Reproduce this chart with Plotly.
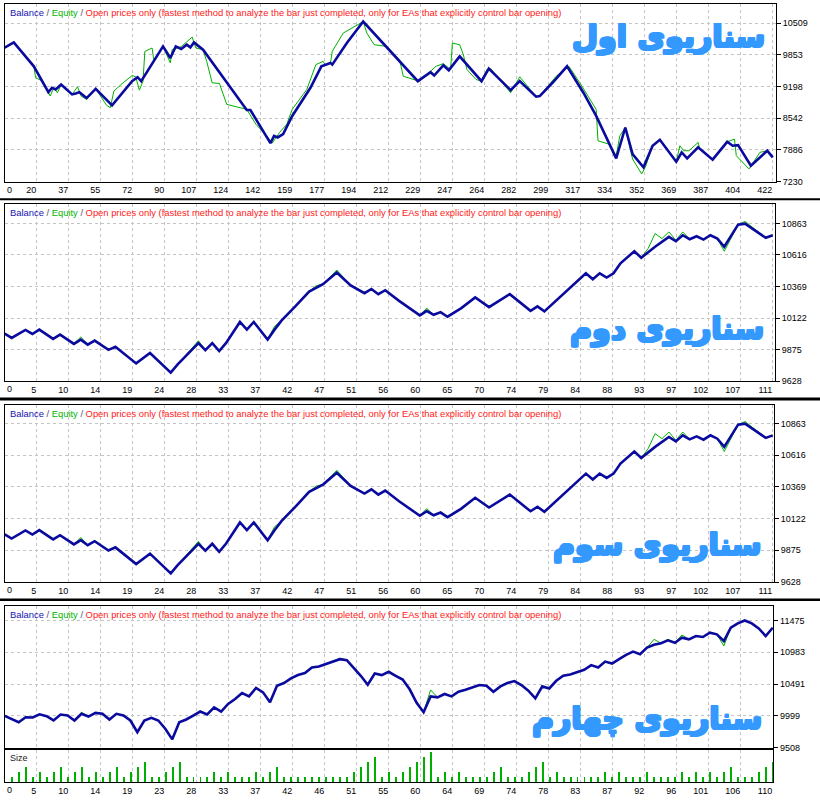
import plotly.graph_objects as go

# ---------------- data ----------------
# Scenario 1 (balance / equity vertices: trade number, account value)
p1_bal_idx = [0, 5, 16, 24, 26, 28, 31, 37, 39, 41, 45, 50, 59, 70, 73, 75, 87, 91, 94, 97, 100, 102, 104, 109,
              133, 135, 146, 148, 150, 153, 158, 168, 174, 179, 180, 188, 197, 227, 234, 236, 241, 244, 250, 262,
              266, 278, 283, 292, 294, 301, 309, 318, 325, 336, 341, 345, 351, 356, 360, 369, 372, 375, 381, 389,
              397, 400, 403, 410, 419, 422]
p1_bal_val = [10000, 10110, 9616, 9081, 9172, 9137, 9240, 9034, 9055, 9081, 8958, 9151, 8808, 9308, 9390, 9308,
              10028, 9789, 10028, 9974, 10062, 10007, 10110, 9960, 8711, 8711, 8026, 8176, 8143, 8211, 8588, 9172,
              9616, 9686, 9651, 10097, 10542, 9308, 9493, 9425, 9637, 9534, 9822, 9308, 9569, 9122, 9308, 8987,
              9000, 9275, 9616, 9069, 8588, 7711, 8349, 7800, 7526, 7971, 8094, 7641, 7835, 7711, 7938, 7683,
              8053, 7971, 7985, 7559, 7868, 7732]
p1_eq_idx = [0, 5, 16, 17, 21, 25, 27, 29, 31, 37, 40, 42, 45, 50, 56, 58, 60, 64, 70, 72, 74, 76, 77, 81, 82, 83,
             87, 91, 92, 97, 103, 105, 109, 111, 114, 118, 122, 133, 138, 144, 147, 151, 155, 158, 164, 166, 171,
             175, 176, 179, 180, 186, 197, 199, 203, 210, 217, 219, 226, 228, 237, 241, 245, 246, 250, 252, 254,
             259, 262, 265, 267, 278, 283, 292, 294, 303, 310, 316, 325, 326, 332, 336, 338, 341, 345, 350, 352,
             356, 360, 369, 371, 373, 376, 381, 382, 389, 397, 401, 402, 409, 415, 419, 422]
p1_eq_val = [10000, 10110, 9630, 9378, 9308, 9000, 9172, 9069, 9240, 9034, 9192, 9000, 8931, 9151, 8808, 8760,
             9102, 9240, 9425, 9398, 9122, 9308, 9925, 9995, 9719, 9789, 10028, 9686, 9960, 10021, 10221, 9995,
             9960, 9719, 9274, 9260, 8828, 8725, 8417, 8176, 8026, 8246, 8417, 8725, 9034, 9137, 9651, 9719,
             9651, 9686, 9925, 10303, 10542, 10303, 10062, 10028, 9748, 9410, 9328, 9308, 9616, 9672, 9549,
             10097, 10062, 9857, 9549, 9343, 9308, 9549, 9569, 9069, 9398, 8987, 9000, 9410, 9616, 9275, 8725,
             8073, 8005, 7765, 8176, 8349, 7697, 7388, 7526, 7971, 8094, 7641, 7971, 7868, 7868, 8040, 7903,
             7683, 8053, 8108, 7765, 7491, 7835, 7868, 7732]
p1_xlabels = [0, 20, 37, 55, 72, 90, 107, 124, 142, 159, 177, 194, 212, 229, 247, 264, 282, 299, 317, 334, 352,
              369, 387, 404, 422]
p1_ylabels = [7230, 7886, 8542, 9198, 9853, 10509]

# Scenarios 2 and 3 (identical curves)
p23_bal_idx = [0, 1, 3, 4, 5, 7, 8, 10, 11, 12, 13, 15, 16, 19, 21, 24, 25, 28, 29, 30, 31, 32, 34, 35, 36, 38,
               39, 40, 42, 44, 46, 48, 50, 52, 53, 54, 55, 57, 60, 61, 62, 63, 64, 66, 68, 70, 73, 76, 77, 78, 84,
               85, 86, 87, 88, 89, 91, 92, 94, 96, 97, 98, 99, 100, 101, 102, 103, 104, 106, 107, 110, 111]
p23_bal_val = [10000, 9967, 10030, 9998, 10032, 9960, 9993, 9921, 9954, 9915, 9946, 9874, 9898, 9768, 9849, 9696,
               9760, 9926, 9872, 9926, 9864, 9928, 10092, 10032, 10092, 9954, 10032, 10102, 10214, 10330, 10387,
               10478, 10377, 10317, 10350, 10309, 10340, 10257, 10144, 10179, 10148, 10169, 10133, 10200, 10284,
               10208, 10309, 10179, 10214, 10175, 10472, 10426, 10472, 10439, 10472, 10550, 10645, 10594, 10680,
               10757, 10723, 10770, 10739, 10762, 10736, 10770, 10744, 10680, 10853, 10861, 10750, 10770]
p23_eq_idx = [0, 1, 3, 4, 5, 7, 8, 10, 11, 12, 13, 15, 16, 19, 21, 24, 25, 28, 29, 30, 31, 32, 34, 35, 36, 38,
              39, 40, 42, 44, 45, 46, 48, 50, 52, 53, 54, 55, 57, 60, 61, 62, 63, 64, 66, 68, 70, 73, 76, 77, 78,
              84, 85, 86, 87, 88, 89, 91, 92, 93, 94, 95, 96, 97, 98, 99, 100, 101, 102, 103, 104, 106, 107, 110,
              111]
p23_eq_val = [10000, 9967, 10030, 9998, 10032, 9960, 9993, 9921, 9975, 9915, 9946, 9874, 9898, 9768, 9849, 9696,
              9760, 9945, 9872, 9926, 9864, 9928, 10092, 10032, 10092, 9954, 10058, 10102, 10214, 10330, 10375,
              10387, 10498, 10377, 10317, 10350, 10309, 10340, 10257, 10144, 10200, 10148, 10169, 10133, 10200,
              10284, 10208, 10309, 10179, 10214, 10175, 10472, 10433, 10472, 10439, 10472, 10550, 10645, 10594,
              10667, 10783, 10744, 10796, 10731, 10796, 10739, 10762, 10736, 10770, 10744, 10645, 10853, 10878,
              10750, 10770]
p23_xlabels = [0, 5, 10, 14, 19, 24, 28, 33, 37, 42, 47, 51, 56, 60, 65, 70, 74, 79, 84, 88, 93, 97, 102, 107, 111]
p23_ylabels = [9628, 9875, 10122, 10369, 10616, 10863]

# Scenario 4
p4_trades = list(range(111))
p4_bal_val = [10000, 9954, 9901, 9978, 9974, 10024, 9994, 9928, 10020, 10004, 9928, 10031, 9989, 10046, 10031,
              9943, 10031, 10004, 9928, 9748, 9928, 9969, 9928, 9800, 9636, 9901, 9943, 10004, 10066, 10020, 10132,
              10066, 10184, 10261, 10353, 10301, 10430, 10363, 10209, 10466, 10507, 10578, 10630, 10661, 10747,
              10762, 10799, 10834, 10876, 10861, 10747, 10619, 10481, 10655, 10630, 10681, 10619, 10560, 10410,
              10200, 10055, 10301, 10286, 10338, 10301, 10373, 10404, 10439, 10476, 10466, 10373, 10455, 10507,
              10538, 10476, 10389, 10270, 10455, 10424, 10542, 10619, 10640, 10670, 10712, 10784, 10747, 10839,
              10808, 10876, 10942, 10993, 10953, 11054, 11100, 11122, 11168, 11131, 11208, 11183, 11234, 11219,
              11285, 11260, 11157, 11362, 11429, 11475, 11429, 11352, 11234, 11362]
p4_eq_val = [10000, 9954, 9901, 9978, 9974, 10024, 9994, 9928, 10020, 10004, 9928, 10055, 9989, 10046, 10031,
             9943, 10031, 10004, 9928, 9748, 9928, 9969, 9928, 9800, 9636, 9901, 9943, 10004, 10066, 10020, 10132,
             10066, 10184, 10261, 10353, 10301, 10430, 10363, 10209, 10466, 10507, 10578, 10630, 10661, 10747,
             10762, 10799, 10834, 10891, 10861, 10747, 10619, 10481, 10655, 10630, 10681, 10619, 10560, 10410,
             10200, 10055, 10400, 10286, 10338, 10301, 10373, 10404, 10439, 10476, 10466, 10373, 10455, 10507,
             10538, 10476, 10389, 10270, 10455, 10424, 10542, 10619, 10640, 10670, 10712, 10784, 10747, 10839,
             10808, 10876, 10942, 10993, 10953, 11054, 11183, 11122, 11183, 11131, 11250, 11183, 11234, 11219,
             11285, 11260, 11080, 11362, 11429, 11475, 11429, 11352, 11234, 11362]
p4_xlabels = [0, 5, 10, 14, 19, 23, 28, 33, 37, 42, 46, 51, 55, 60, 64, 69, 74, 78, 83, 87, 92, 96, 101, 106, 110]
p4_ylabels = [9508, 9999, 10491, 10983, 11475]

size_trades = list(range(1, 111))
size_lots = [1, 2, 3, 1, 2, 1, 2, 3, 1, 2, 3, 1, 2, 1, 2, 3, 1, 2, 3, 4, 1, 1, 2, 3, 4, 1, 1, 1, 1, 2,
             1, 2, 1, 1, 1, 2, 1, 2, 3, 1, 1, 1, 1, 1, 1, 1, 1, 1, 1, 2, 3, 4, 5, 1, 2, 1, 2, 3, 4, 5,
             6, 1, 2, 1, 2, 1, 1, 1, 1, 2, 3, 1, 1, 1, 2, 3, 4, 1, 2, 1, 1, 1, 1, 1, 1, 2, 1, 2, 1, 1,
             1, 2, 1, 1, 1, 1, 2, 1, 2, 1, 2, 1, 2, 3, 1, 1, 1, 2, 3, 4]

scenario_titles = ["سناریوی اول", "سناریوی دوم", "سناریوی سوم", "سناریوی چهارم"]
header_parts = ["Balance", "Equity",
                "Open prices only (fastest method to analyze the bar just completed, only for EAs that explicitly control bar opening)"]

# ---------------- layout helpers ----------------
W, H = 820, 805
BAL_C = "#0A0A9E"
EQ_C = "#00B000"
GRID_C = "#C4C4C4"
FONT = "Liberation Sans"
TITLE_C = "#3399FF"


def px_x(p):
    return p / W


def px_y(p):
    return 1 - p / H


# pixel boxes: left, right, top, bottom ; grid step in trades per 32px
panels = [
    dict(box=(4.7, 776, 4, 182.7), yr=(7230, 10906), step=422 / 24, bal=(p1_bal_idx, p1_bal_val),
         eq=(p1_eq_idx, p1_eq_val), xl=p1_xlabels, yl=p1_ylabels, showx=True),
    dict(box=(4.7, 775, 205.3, 383.7), yr=(9628, 11014), step=111 / 24, bal=(p23_bal_idx, p23_bal_val),
         eq=(p23_eq_idx, p23_eq_val), xl=p23_xlabels, yl=p23_ylabels, showx=True),
    dict(box=(4.7, 774, 407.3, 585.7), yr=(9628, 11008), step=111 / 24, bal=(p23_bal_idx, p23_bal_val),
         eq=(p23_eq_idx, p23_eq_val), xl=p23_xlabels, yl=p23_ylabels, showx=True),
    dict(box=(4.7, 773.3, 609.3, 752.3), yr=(9508, 11706), step=110 / 24, bal=(p4_trades, p4_bal_val),
         eq=(p4_trades, p4_eq_val), xl=p4_xlabels, yl=p4_ylabels, showx=False),
]
title_pos = [(767, 37), (766, 331), (764, 548), (764, 723)]

fig = go.Figure()
layout = dict(width=W, height=H, margin=dict(l=0, r=0, t=0, b=0), paper_bgcolor="white",
              plot_bgcolor="white", showlegend=False, font=dict(family=FONT, size=9, color="black"))
annotations = []
shapes = []


def xaxis_cfg(box, step, labels, showlabels):
    l, r, t, b = box
    xmax = (r - l) / 32 * step
    return dict(domain=[px_x(l), px_x(r)], range=[0, xmax],
                tickvals=[k * step for k in range(1, len(labels))], ticktext=[str(v) for v in labels[1:]],
                ticklabelposition="outside left", showticklabels=showlabels, ticks="",
                showgrid=True, gridcolor=GRID_C, griddash="3px,3px", gridwidth=1,
                showline=True, mirror=True, linecolor="black", linewidth=1, zeroline=False,
                tickfont=dict(family=FONT, size=9, color="black"), fixedrange=True)


shadow = ", ".join(f"{dx}px {dy}px 0px {TITLE_C}" for dx, dy in
                   [(1, 0), (-1, 0), (0, 1), (0, -1), (1, 1), (-1, -1), (1, -1), (-1, 1)])

for i, p in enumerate(panels):
    n = i + 1
    xa = "x" if n == 1 else f"x{n}"
    ya = "y" if n == 1 else f"y{n}"
    l, r, t, b = p["box"]
    layout[f"xaxis{'' if n == 1 else n}"] = dict(anchor=ya, **xaxis_cfg(p["box"], p["step"], p["xl"], p["showx"]))
    layout[f"yaxis{'' if n == 1 else n}"] = dict(
        anchor=xa, domain=[px_y(b), px_y(t)], range=list(p["yr"]), side="right",
        tickvals=p["yl"], ticktext=[str(v) for v in p["yl"]], ticks="outside", ticklen=4, tickcolor="black",
        showgrid=True, gridcolor=GRID_C, griddash="3px,3px", gridwidth=1,
        showline=True, mirror=True, linecolor="black", linewidth=1, zeroline=False,
        tickfont=dict(family=FONT, size=9, color="black"), fixedrange=True)
    fig.add_trace(go.Scatter(x=p["eq"][0], y=p["eq"][1], mode="lines", line=dict(color=EQ_C, width=1),
                             xaxis=xa, yaxis=ya, hoverinfo="skip"))
    fig.add_trace(go.Scatter(x=p["bal"][0], y=p["bal"][1], mode="lines", line=dict(color=BAL_C, width=2.6),
                             xaxis=xa, yaxis=ya, hoverinfo="skip"))
    header = (f'<span style="color:#1414B4">{header_parts[0]}</span>'
              f'<span style="color:#505078"> / </span>'
              f'<span style="color:#00B400">{header_parts[1]}</span>'
              f'<span style="color:#505078"> / </span>'
              f'<span style="color:#FF2020">{header_parts[2]}</span>')
    annotations.append(dict(xref="paper", yref="paper", x=px_x(l + 3.4), y=px_y(t + 8.6), text=header,
                            showarrow=False, xanchor="left", yanchor="middle",
                            font=dict(family=FONT, size=9.4)))
    if p["showx"]:
        annotations.append(dict(xref="paper", yref="paper", x=px_x(l + 0.6), y=px_y(b + 8),
                                text="0", showarrow=False, xanchor="left", yanchor="middle",
                                font=dict(family=FONT, size=9, color="black")))
    tx, ty = title_pos[i]
    annotations.append(dict(xref="paper", yref="paper", x=px_x(tx), y=px_y(ty),
                            text=f"<b>{scenario_titles[i]}</b>", showarrow=False,
                            xanchor="right", yanchor="middle",
                            font=dict(family="DejaVu Sans", size=30, color=TITLE_C, shadow=shadow)))

# size sub-panel (shares scenario 4 trade axis)
sbox = (4.7, 773.3, 754.7, 787.3)
layout["xaxis5"] = dict(anchor="y5", **xaxis_cfg(sbox, 110 / 24, p4_xlabels, True))
layout["yaxis5"] = dict(anchor="x5", domain=[px_y(sbox[3]), px_y(sbox[2])], range=[0, 6.5], side="right",
                        showticklabels=False, ticks="", showgrid=False, showline=True, mirror=True,
                        linecolor="black", linewidth=1, zeroline=False, fixedrange=True)
fig.add_trace(go.Bar(x=size_trades, y=size_lots, width=0.14, marker=dict(color=EQ_C, line=dict(width=0)),
                     xaxis="x5", yaxis="y5", hoverinfo="skip"))
annotations.append(dict(xref="paper", yref="paper", x=px_x(sbox[0] + 0.6), y=px_y(sbox[3] + 8), text="0",
                        showarrow=False, xanchor="left", yanchor="middle", font=dict(family=FONT, size=9)))
annotations.append(dict(xref="paper", yref="paper", x=px_x(sbox[0] + 3.4), y=px_y(sbox[2] + 8.5), text="Size",
                        showarrow=False, xanchor="left", yanchor="middle",
                        font=dict(family=FONT, size=9, color="#202020")))

# separators between the stacked screenshots
for yy, w in [(200.5, 2), (401.5, 3), (603.5, 2.5)]:
    shapes.append(dict(type="line", xref="paper", yref="paper", x0=0, x1=1, y0=px_y(yy), y1=px_y(yy),
                       line=dict(color="black", width=w)))

layout["annotations"] = annotations
layout["shapes"] = shapes
layout["bargap"] = 0
fig.update_layout(**layout)
fig.write_html("out.html")
